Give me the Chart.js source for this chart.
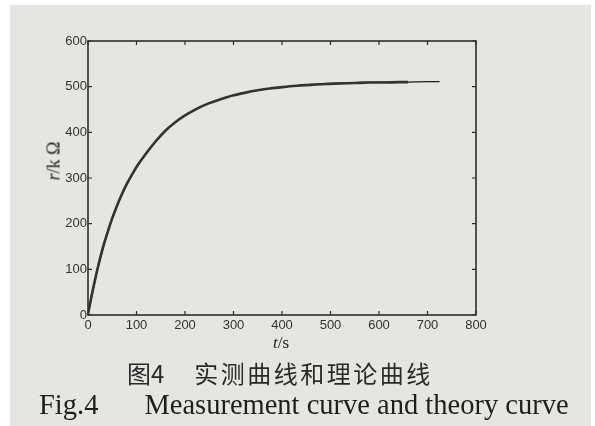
<!DOCTYPE html>
<html>
<head>
<meta charset="utf-8">
<script src="https://cdn.jsdelivr.net/npm/chart.js@4/dist/chart.umd.min.js"></script>
<style>
  html, body { margin: 0; padding: 0; background: #fff; }
  #page { position: relative; width: 595px; height: 426px; overflow: hidden; background: #fff; }
  #paper { position: absolute; left: 10px; top: 5px; right: 4px; bottom: 0; background: #e5e5e2; }
  #wrap { position: absolute; left: 0; top: 0; width: 595px; height: 340px; }
  .lbl { position: absolute; color: #222; white-space: nowrap; }
  #ytitle { left: 54px; top: 161px; transform: translate(-50%, -50%) rotate(-90deg);
            font: 18px "Liberation Serif", serif; }
  #xtitle { left: 281px; top: 343px; transform: translate(-50%, -50%);
            font: 17px "Liberation Serif", serif; }
  #cn { left: 127px; top: 355px; font: 24px "Noto Sans CJK SC", sans-serif; color: #2a2a2a; }
  #en { left: 39px; top: 389px; font: 28.5px "Liberation Serif", serif; color: #1e1e1e; }
</style>
</head>
<body>
<div id="page">
  <div id="paper"></div>
  <div id="wrap"><canvas id="chart"></canvas></div>
  <div class="lbl" id="ytitle"><i>r</i>/k&nbsp;Ω</div>
  <div class="lbl" id="xtitle"><i>t</i>/s</div>
  <div class="lbl" id="cn">图4<span style="display:inline-block;width:30px"></span><span style="letter-spacing:2.5px">实测曲线和理论曲线</span></div>
  <div class="lbl" id="en">Fig.4<span style="display:inline-block;width:46px"></span>Measurement curve and theory curve</div>
</div>
<script>
// measured curve
var measT = [0, 10, 20, 30, 40, 50, 60, 70, 80, 90, 100, 120, 140, 160, 180, 200, 225, 250, 275, 300, 325, 350, 375, 400, 430, 460, 490, 520, 550, 580, 610, 640, 660];
var measR = [3, 55, 103, 145, 180, 212, 240, 265, 287, 306, 324, 354, 381, 404, 422, 437, 452, 464, 473, 481, 487, 492, 496, 499, 502, 504, 506, 507, 508, 509, 509, 510, 510];

// theory curve
var theoT = [0, 10, 20, 40, 60, 80, 100, 125, 150, 175, 200, 250, 300, 350, 400, 450, 500, 550, 600, 650, 700, 725];
var theoR = [0, 52, 100, 178, 238, 286, 323, 360, 392, 418, 437, 464, 481, 492, 499, 504, 507, 509, 510, 510, 511, 511];

var xTicks = [0, 100, 200, 300, 400, 500, 600, 700, 800];
var yTicks = [0, 100, 200, 300, 400, 500, 600];

function pts(xs, ys) {
  return xs.map(function(x, i) { return { x: x, y: ys[i] }; });
}

// box and inward ticks, matlab style
var frame = {
  id: 'frame',
  afterDraw: function(chart) {
    var c = chart.ctx, a = chart.chartArea;
    var xs = chart.scales.x, ys = chart.scales.y;
    var len = 4;
    c.save();
    c.strokeStyle = '#2e2e2e';
    c.lineWidth = 1.6;
    c.strokeRect(a.left, a.top, a.right - a.left, a.bottom - a.top);
    c.lineWidth = 1.2;
    c.beginPath();
    xTicks.forEach(function(v) {
      var px = xs.getPixelForValue(v);
      c.moveTo(px, a.bottom); c.lineTo(px, a.bottom - len);
      c.moveTo(px, a.top); c.lineTo(px, a.top + len);
    });
    yTicks.forEach(function(v) {
      var py = ys.getPixelForValue(v);
      c.moveTo(a.left, py); c.lineTo(a.left + len, py);
      c.moveTo(a.right, py); c.lineTo(a.right - len, py);
    });
    c.stroke();
    c.restore();
  }
};

var ctx = document.getElementById('chart').getContext('2d');
new Chart(ctx, {
  type: 'line',
  data: {
    datasets: [
      {
        label: 'measured',
        data: pts(measT, measR),
        borderColor: '#333333',
        borderWidth: 2.6,
        pointRadius: 0,
        cubicInterpolationMode: 'monotone'
      },
      {
        label: 'theory',
        data: pts(theoT, theoR),
        borderColor: '#1a1a1a',
        borderWidth: 1.2,
        pointRadius: 0,
        cubicInterpolationMode: 'monotone'
      }
    ]
  },
  options: {
    responsive: true,
    maintainAspectRatio: false,
    animation: false,
    layout: { padding: { left: 0, top: 41, right: 119, bottom: 0 } },
    plugins: { legend: { display: false }, tooltip: { enabled: false } },
    scales: {
      x: {
        type: 'linear',
        min: 0, max: 800,
        afterBuildTicks: function(s) { s.ticks = xTicks.map(function(v) { return { value: v }; }); },
        afterFit: function(s) { s.height = 25; },
        grid: { display: false, drawTicks: false },
        border: { display: false },
        ticks: { padding: 3, maxRotation: 0, color: '#333', font: { family: 'Liberation Sans', size: 13 } }
      },
      y: {
        type: 'linear',
        min: 0, max: 600,
        afterBuildTicks: function(s) { s.ticks = yTicks.map(function(v) { return { value: v }; }); },
        afterFit: function(s) { s.width = 88; },
        grid: { display: false, drawTicks: false },
        border: { display: false },
        ticks: { padding: 1, color: '#333', font: { family: 'Liberation Sans', size: 13 } }
      }
    }
  },
  plugins: [frame]
});
</script>
</body>
</html>
